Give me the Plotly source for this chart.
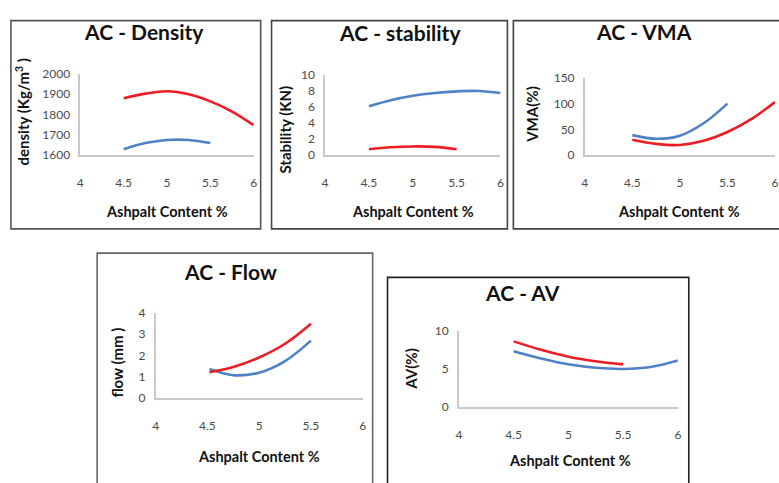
import plotly.graph_objects as go

W, H = 779, 483

# ---------------- data ----------------
ac_x = [4.5, 4.75, 5.0, 5.25, 5.5, 5.75, 6.0]
ac_x_short = [4.5, 4.75, 5.0, 5.25, 5.5]
x_ticks = [4, 4.5, 5, 5.5, 6]

density_red = [1880, 1903, 1915, 1900, 1865, 1815, 1748]
density_blue = [1630, 1660, 1675, 1675, 1660]

stability_blue = [6.1, 6.85, 7.4, 7.75, 7.95, 8.0, 7.75]
stability_red = [0.75, 1.0, 1.1, 1.05, 0.75]

vma_blue = [39, 32, 38, 62, 100]
vma_red = [30, 22, 20, 28, 45, 70, 103]

flow_x = [4.52, 4.75, 5.0, 5.25, 5.5]
flow_red = [1.2, 1.45, 1.9, 2.55, 3.5]
flow_blue = [1.35, 1.06, 1.18, 1.73, 2.7]

av_red = [8.6, 7.5, 6.6, 6.0, 5.6]
av_blue = [7.3, 6.35, 5.6, 5.15, 5.0, 5.25, 6.1]

RED = "#ee1c25"
BLUE = "#4f81c7"
FONT = "Lato, 'Open Sans', sans-serif"

def px(x):
    return x / W

def py(y):
    return 1 - y / H

# panels: plot-area pixel box, y range, y ticks
panels = [
    dict(x0=78, x1=253, yt=68, yb=152, yr=[1600, 2000], yt_vals=[1600, 1700, 1800, 1900, 2000]),
    dict(x0=325, x1=502, yt=69, yb=152, yr=[0, 10], yt_vals=[0, 2, 4, 6, 8, 10]),
    dict(x0=587, x1=779, yt=72, yb=152, yr=[0, 150], yt_vals=[0, 50, 100, 150]),
    dict(x0=154, x1=363, yt=315, yb=402, yr=[0, 4], yt_vals=[0, 1, 2, 3, 4]),
    dict(x0=460, x1=681, yt=333, yb=412, yr=[0, 10], yt_vals=[0, 5, 10]),
]

fig = go.Figure()

series = [
    (1, ac_x, density_red, RED), (1, ac_x_short, density_blue, BLUE),
    (2, ac_x, stability_blue, BLUE), (2, ac_x_short, stability_red, RED),
    (3, ac_x_short, vma_blue, BLUE), (3, ac_x, vma_red, RED),
    (4, flow_x, flow_blue, BLUE), (4, flow_x, flow_red, RED),
    (5, ac_x, av_blue, BLUE), (5, ac_x_short, av_red, RED),
]
for i, xs, ys, col in series:
    sfx = "" if i == 1 else str(i)
    fig.add_trace(go.Scatter(x=xs, y=ys, mode="lines",
                             line=dict(color=col, width=2.6, shape="spline", smoothing=1.0),
                             xaxis="x" + sfx, yaxis="y" + sfx, showlegend=False,
                             hoverinfo="skip", cliponaxis=False))

layout = {}
for i, p in enumerate(panels, start=1):
    sfx = "" if i == 1 else str(i)
    layout["xaxis" + sfx] = dict(
        domain=[px(p["x0"]), px(p["x1"])], range=[4, 6], anchor="y" + sfx,
        tickvals=x_ticks, ticktext=[str(t) for t in x_ticks],
        showgrid=False, zeroline=False, showline=True, linecolor="#c8c8c8", linewidth=1.5,
        ticks="", ticklabelstandoff=16,
        tickfont=dict(family=FONT, size=12, color="#4a4a4a"), fixedrange=True)
    layout["yaxis" + sfx] = dict(
        domain=[py(p["yb"]), py(p["yt"])], range=p["yr"], anchor="x" + sfx,
        tickvals=p["yt_vals"], showgrid=False, zeroline=False, showline=True,
        linecolor="#c8c8c8", linewidth=1.5, ticks="", ticklabelstandoff=6,
        tickfont=dict(family=FONT, size=12, color="#4a4a4a"), fixedrange=True)

# panel boxes
boxes = [(8, 13, 260, 228, "#555555"), (271, 13, 509, 228, "#444444"),
         (515, 13, 790, 228, "#444444"), (95, 253, 373, 495, "#666666"),
         (388, 278, 692, 495, "#222222")]
shapes = []
for x0, y0, x1, y1, c in boxes:
    shapes.append(dict(type="rect", xref="paper", yref="paper",
                       x0=px(x0), x1=px(x1), y0=py(y1), y1=py(y0),
                       line=dict(color=c, width=1.6), layer="below"))

titles = [("AC - Density", 142, 24), ("AC - stability", 401, 25), ("AC - VMA", 647, 24),
          ("AC - Flow", 230, 272), ("AC - AV", 524, 294)]
xtitles = [(165, 210), (414, 210), (682, 210), (258, 463), (572, 467)]
ytitles = [("density (Kg/m<sup>3</sup> )", 20, 107), ("Stability (KN)", 285, 125),
           ("VMA(%)", 533, 110), ("flow (mm )", 115, 366), ("AV(%)", 412, 372)]

ann = []
for t, x, y in titles:
    ann.append(dict(text=t, x=px(x), y=py(y), xref="paper", yref="paper", showarrow=False,
                    xanchor="center", yanchor="middle",
                    font=dict(family=FONT, size=21, color="#111111", weight="bold")))
for x, y in xtitles:
    ann.append(dict(text="Ashpalt Content %", x=px(x), y=py(y), xref="paper", yref="paper",
                    showarrow=False, xanchor="center", yanchor="middle",
                    font=dict(family=FONT, size=14.5, color="#111111", weight="bold")))
for t, x, y in ytitles:
    ann.append(dict(text=t, x=px(x), y=py(y), xref="paper", yref="paper", showarrow=False,
                    textangle=-90, xanchor="center", yanchor="middle",
                    font=dict(family=FONT, size=15, color="#111111", weight="bold")))

fig.update_layout(width=W, height=H, margin=dict(l=0, r=0, t=0, b=0),
                  paper_bgcolor="white", plot_bgcolor="white",
                  shapes=shapes, annotations=ann, **layout)

fig.write_html("out.html", config={"displayModeBar": False},
               post_script="document.body.style.margin='0';document.body.style.overflow='hidden';")
